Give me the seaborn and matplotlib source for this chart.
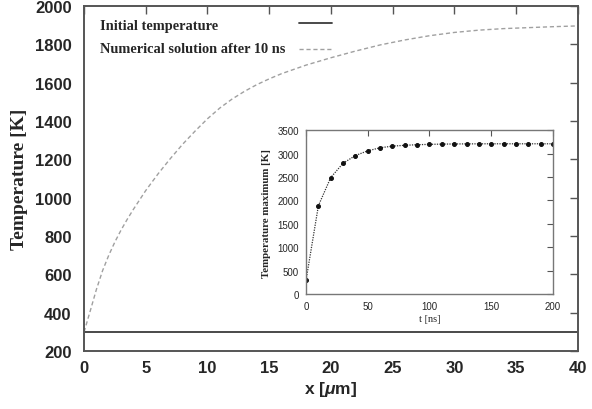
import matplotlib
matplotlib.use("Agg")
import matplotlib.pyplot as plt
import seaborn as sns
import pandas as pd

# Temperature profile along the depth coordinate
x_um = [0, 0.25, 0.5, 1, 1.5, 2, 2.5, 3, 3.5, 4, 5, 6, 7, 8, 9, 10, 11, 12, 13, 14,
        15, 16, 18, 20, 22, 24, 26, 28, 30, 32, 34, 36, 38, 40]
temp_10ns = [300, 355, 410, 522, 620, 700, 770, 832, 888, 940, 1038, 1125, 1205,
             1280, 1348, 1412, 1468, 1515, 1555, 1590, 1620, 1647, 1692, 1730, 1765,
             1797, 1823, 1845, 1862, 1874, 1882, 1887, 1892, 1896]
x_init = [0, 40]
temp_init = [300, 300]

# Maximum temperature over time
t_ns = list(range(0, 201, 10))
temp_max = [300, 1890, 2490, 2795, 2960, 3060, 3125, 3160, 3178, 3190, 3198, 3203,
            3206, 3208, 3209, 3210, 3210, 3210, 3210, 3210, 3210]

legend_labels = ["Initial temperature", "Numerical solution after 10 ns"]

sns.set_style("white")
plt.rcParams["font.family"] = ["Liberation Sans", "DejaVu Sans"]
plt.rcParams["mathtext.fontset"] = "custom"
plt.rcParams["mathtext.it"] = "Liberation Sans:italic:bold"
plt.rcParams["mathtext.rm"] = "Liberation Sans:bold"

serif = ["Liberation Serif", "DejaVu Serif"]
spine_col = "#555555"
init_col = "#3a3a3a"
num_col = "#a0a0a0"
num_dash = (0, (3, 2))

fig = plt.figure(figsize=(5.92, 4.10), dpi=100)
ax = fig.add_axes([0.142, 0.141, 0.834, 0.842])

df_init = pd.DataFrame({"x": x_init, "T": temp_init})
df_num = pd.DataFrame({"x": x_um, "T": temp_10ns})
sns.lineplot(data=df_init, x="x", y="T", ax=ax, color=init_col, linewidth=1.3)
sns.lineplot(data=df_num, x="x", y="T", ax=ax, color=num_col, linewidth=1.0,
             linestyle=num_dash)

ax.set_xlim(0, 40)
ax.set_ylim(200, 2000)
ax.set_xticks(range(0, 41, 5))
ax.set_yticks(range(200, 2001, 200))
ax.tick_params(direction="in", length=6, width=1, color=spine_col,
               top=True, right=True, labelsize=12)
ax.tick_params(axis="y", pad=9)
ax.tick_params(axis="x", pad=6)
for lab in ax.get_xticklabels() + ax.get_yticklabels():
    lab.set_fontweight("bold")
for s in ax.spines.values():
    s.set_color(spine_col)
    s.set_linewidth(1.4)

ax.set_xlabel(r"x [$\mu$m]", fontsize=12.5, fontweight="bold", labelpad=3)
ax.set_ylabel("Temperature [K]", fontsize=14, fontweight="bold",
              family=serif, labelpad=5)

# Legend in the upper-left corner, samples to the right of the labels
tr = ax.transAxes
ax.text(0.032, 0.944, legend_labels[0], transform=tr, va="center", ha="left",
        fontsize=10.4, fontweight="bold", family=serif)
ax.text(0.032, 0.878, legend_labels[1], transform=tr, va="center", ha="left",
        fontsize=10.4, fontweight="bold", family=serif)
ax.plot([0.435, 0.502], [0.951, 0.951], transform=tr, color=init_col, linewidth=1.3)
ax.plot([0.435, 0.502], [0.875, 0.875], transform=tr, color=num_col, linewidth=1.0,
        linestyle=num_dash)

# Inset: maximum temperature versus time
ins = fig.add_axes([0.517, 0.280, 0.417, 0.400])
df_max = pd.DataFrame({"t": t_ns, "T": temp_max})
sns.lineplot(data=df_max, x="t", y="T", ax=ins, color="#333333", linewidth=0.9,
             linestyle=(0, (1, 1)), marker="o", markersize=2.8,
             markeredgecolor="#111111", markerfacecolor="#111111")
ins.set_xlim(0, 200)
ins.set_ylim(0, 3500)
ins.set_xticks(range(0, 201, 50))
ins.set_yticks(range(0, 3501, 500))
ins.tick_params(direction="in", length=4, width=0.8, color=spine_col,
                top=True, right=True, labelsize=7, pad=5)
for s in ins.spines.values():
    s.set_color("#777777")
    s.set_linewidth(1.0)
ins.set_xlabel("t [ns]", fontsize=7.5, family=serif, labelpad=2)
ins.set_ylabel("Temperature maximum [K]", fontsize=7.8, fontweight="bold",
               family=serif, labelpad=5)

fig.savefig("out.png", dpi=100)
